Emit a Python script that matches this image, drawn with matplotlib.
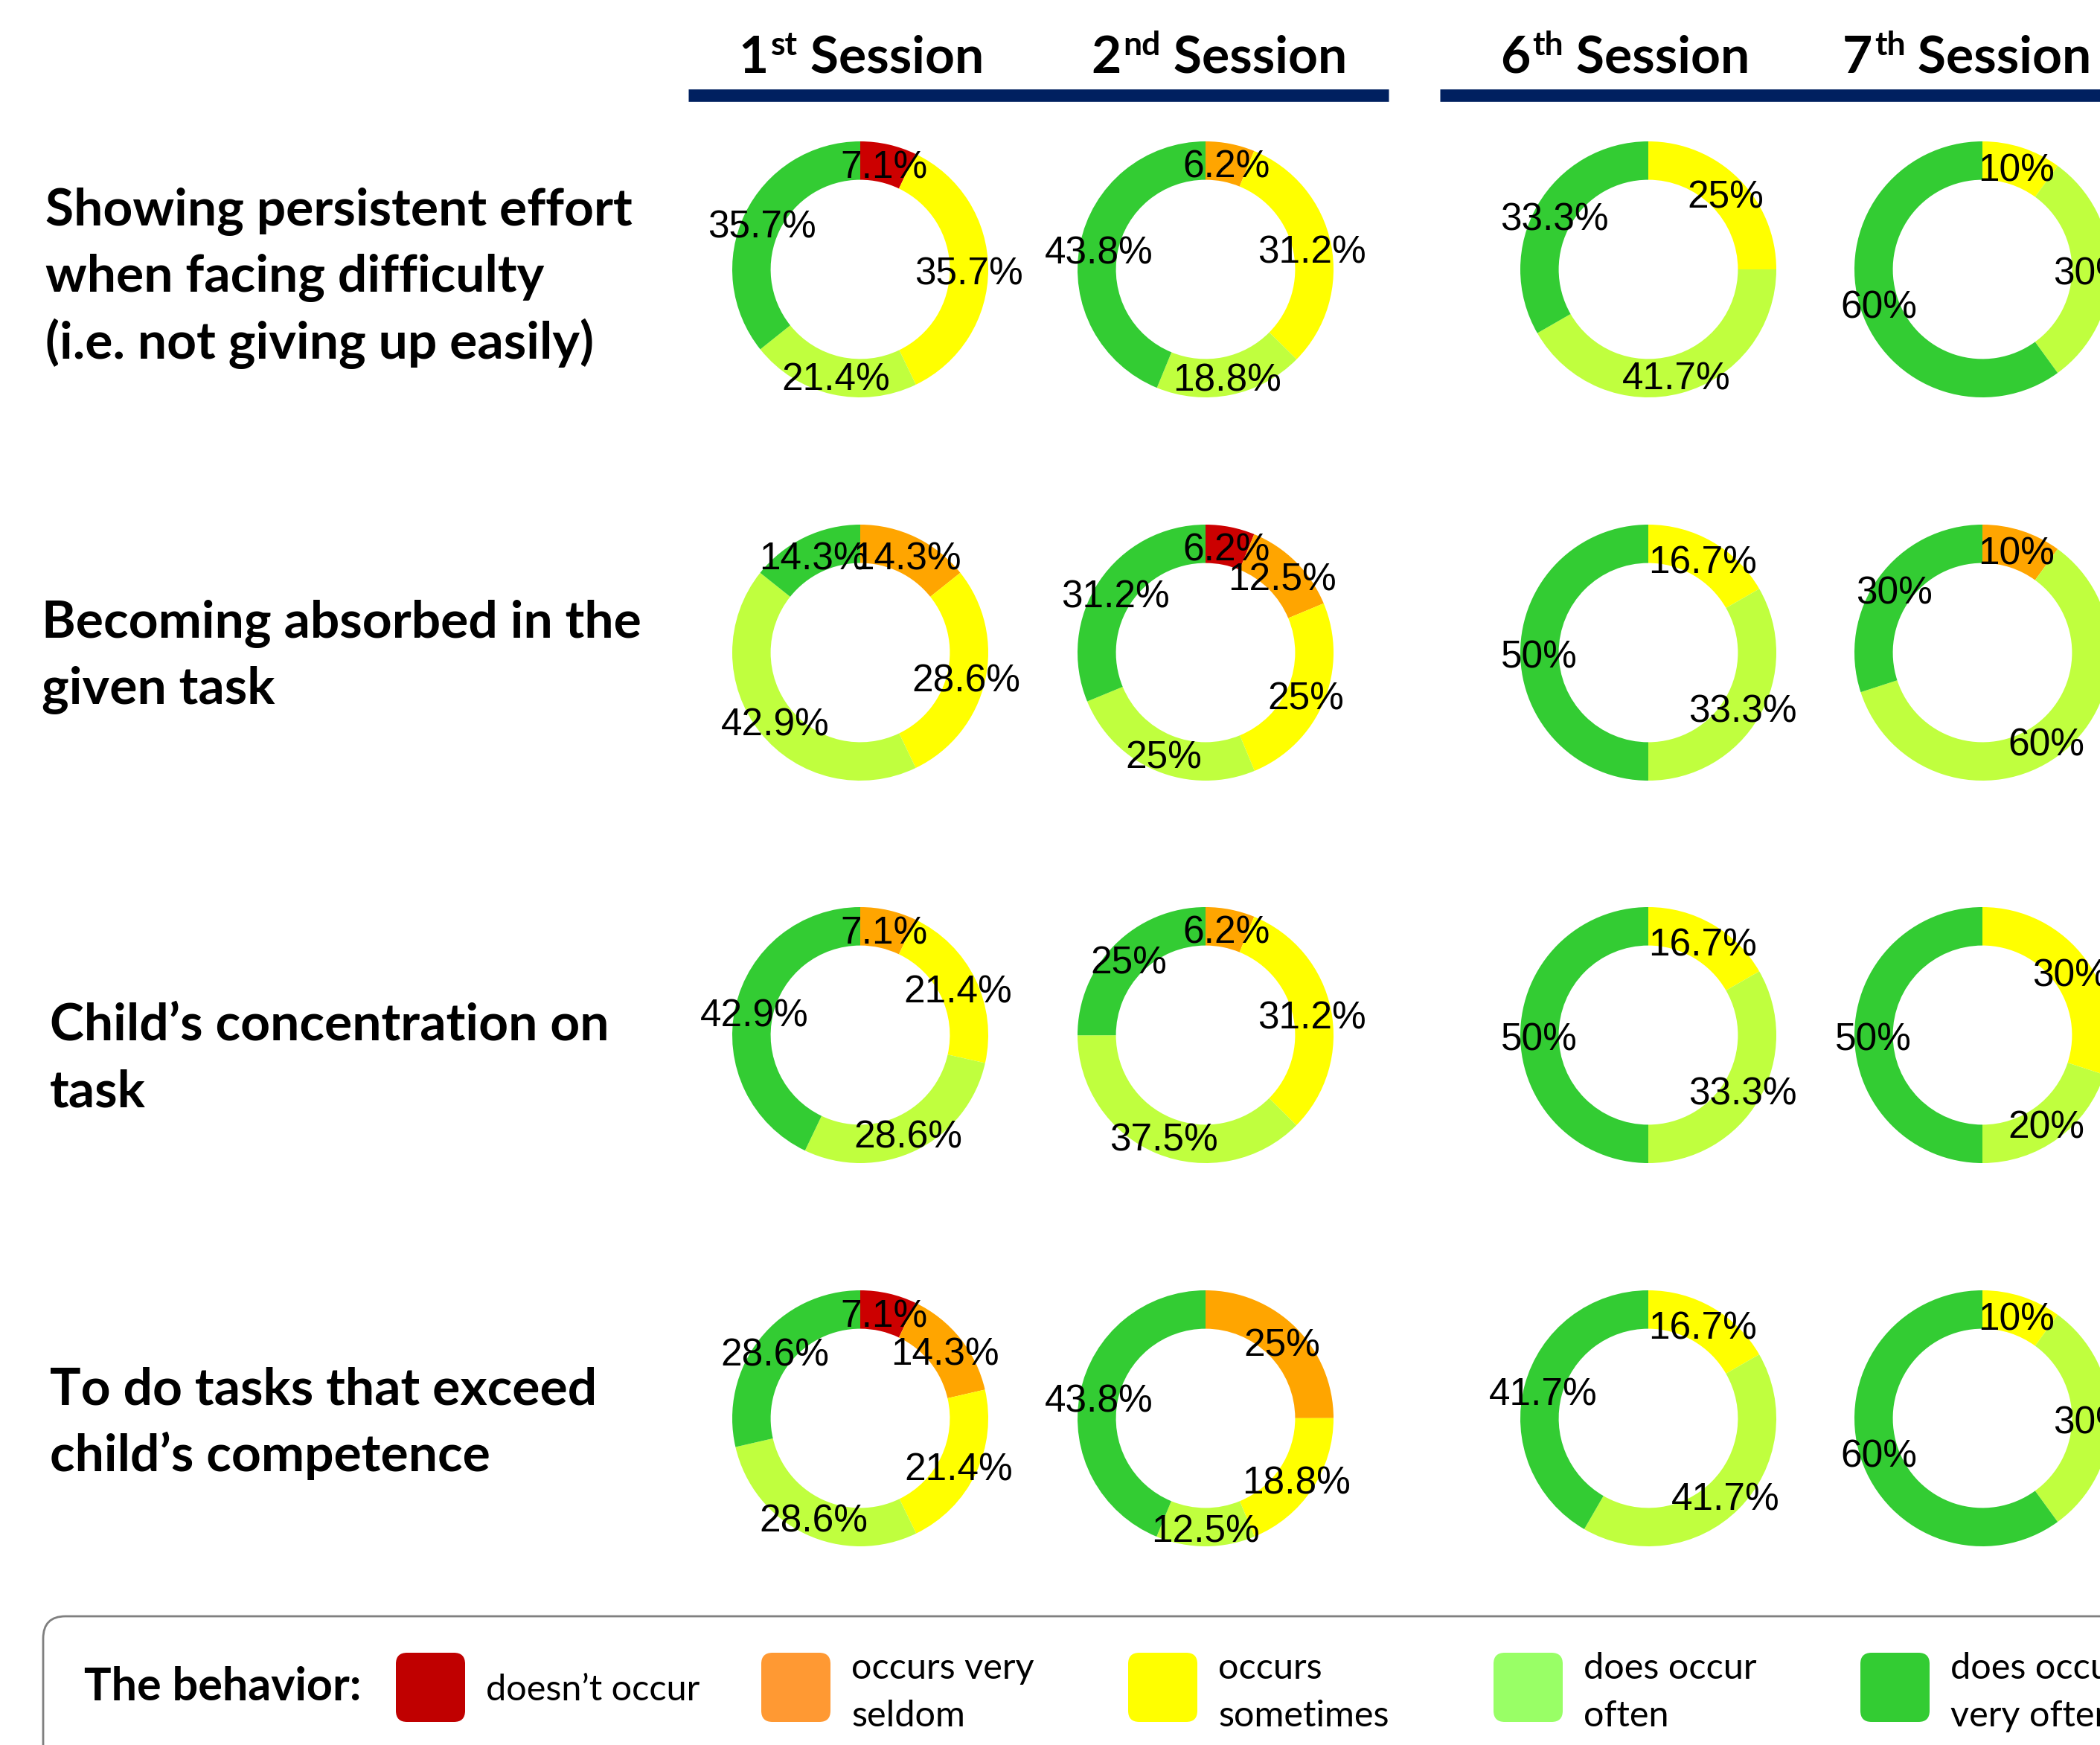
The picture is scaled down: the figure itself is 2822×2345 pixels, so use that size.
import matplotlib
matplotlib.use("Agg")
import matplotlib.pyplot as plt
from matplotlib.patches import FancyBboxPatch

# figure size in pixels (dpi 100)
W, H = 2822, 2345

# categories, in clockwise order from 12 o'clock
categories = ["doesn’t occur", "occurs very\nseldom", "occurs\nsometimes",
              "does occur\noften", "does occur\nvery often"]
ring_colors = ["#CC0000", "#FFA500", "#FFFF00", "#C0FF3E", "#33CC33"]
legend_colors = ["#C00000", "#FF9933", "#FFFF00", "#99FF66", "#33CC33"]

sessions = [("1", "st"), ("2", "nd"), ("6", "th"), ("7", "th")]

behaviors = [
    ["Showing persistent effort", "when facing difficulty", "(i.e. not giving up easily)"],
    ["Becoming absorbed in the", "given task"],
    ["Child’s concentration on", "task"],
    ["To do tasks that exceed", "child’s competence"],
]

# percentages per behaviour, per session: [red, orange, yellow, light green, green]
effort = [[7.1, 0, 35.7, 21.4, 35.7],
          [0, 6.2, 31.2, 18.8, 43.8],
          [0, 0, 25, 41.7, 33.3],
          [0, 0, 10, 30, 60]]
absorbed = [[0, 14.3, 28.6, 42.9, 14.3],
            [6.2, 12.5, 25, 25, 31.2],
            [0, 0, 16.7, 33.3, 50],
            [0, 10, 0, 60, 30]]
concentration = [[0, 7.1, 21.4, 28.6, 42.9],
                 [0, 6.2, 31.2, 37.5, 25],
                 [0, 0, 16.7, 33.3, 50],
                 [0, 0, 30, 20, 50]]
exceed = [[7.1, 14.3, 21.4, 28.6, 28.6],
          [0, 25, 18.8, 12.5, 43.8],
          [0, 0, 16.7, 41.7, 41.7],
          [0, 0, 10, 30, 60]]
all_data = [effort, absorbed, concentration, exceed]

# layout (pixels)
col_x = [1156, 1620, 2215, 2664]
row_y = [362, 877, 1391, 1906]
R = 172
title_x = [61, 56, 67, 67]
title_base = [[303, 392, 482], [857, 946], [1397, 1487], [1887, 1977]]

fig = plt.figure(figsize=(W / 100, H / 100), dpi=100)
ax = fig.add_axes([0, 0, 1, 1])
ax.set_xlim(0, W)
ax.set_ylim(H, 0)
ax.axis("off")

bold = dict(family="Lato", fontweight="bold", color="black")

# session headers with superscripts
renderer = fig.canvas.get_renderer()
for (num, sup), cx in zip(sessions, [1157, 1638, 2184, 2643]):
    t1 = ax.text(0, 98, num, fontsize=50, va="baseline", ha="left", **bold)
    t2 = ax.text(0, 74, sup, fontsize=32, va="baseline", ha="left", **bold)
    t3 = ax.text(0, 98, " Session", fontsize=50, va="baseline", ha="left", **bold)
    w1 = t1.get_window_extent(renderer).width
    w2 = t2.get_window_extent(renderer).width
    w3 = t3.get_window_extent(renderer).width
    x0 = cx - (w1 + 3 + w2 + w3) / 2
    t1.set_x(x0)
    t2.set_x(x0 + w1 + 3)
    t3.set_x(x0 + w1 + 3 + w2)

# navy rules under the headers
ax.plot([925, 1866], [128, 128], color="#002060", lw=12, solid_capstyle="butt")
ax.plot([1935, W + 10], [128, 128], color="#002060", lw=12, solid_capstyle="butt")

# row titles
for lines, x, bases in zip(behaviors, title_x, title_base):
    for line, yb in zip(lines, bases):
        ax.text(x, yb, line, fontsize=50, va="baseline", ha="left", **bold)

# donuts
for r, rows in enumerate(all_data):
    for c, vals in enumerate(rows):
        cx, cy = col_x[c], row_y[r]
        axd = fig.add_axes([(cx - R) / W, 1 - (cy + R) / H, 2 * R / W, 2 * R / H])
        v = [x for x in vals if x > 0]
        cols = [ring_colors[i] for i, x in enumerate(vals) if x > 0]
        labs = [f"{x:g}%" for x in v]
        wedges, texts = axd.pie(v, colors=cols, startangle=90, counterclock=False,
                                labels=labs, labeldistance=0.85,
                                wedgeprops=dict(width=0.3, linewidth=0),
                                textprops=dict(fontsize=37, family="Liberation Sans"))
        for t in texts:
            t.set_ha("center")
            t.set_va("center")
            t.set_y(t.get_position()[1] - 0.04)
        axd.set_xlim(-1, 1)
        axd.set_ylim(-1, 1)
        axd.axis("off")

# legend box
box = FancyBboxPatch((58, 2172), 3000, 600, boxstyle="round,pad=0,rounding_size=30",
                     fc="white", ec="#7F7F7F", lw=2)
ax.add_patch(box)
ax.text(113, 2285, "The behavior:", fontsize=44, va="baseline", ha="left", **bold)
sw_x = [532, 1023, 1516, 2007, 2500]
for x, col, lab in zip(sw_x, legend_colors, categories):
    ax.add_patch(FancyBboxPatch((x, 2221), 93, 93, boxstyle="round,pad=0,rounding_size=15",
                                fc=col, ec="none"))
    parts = lab.split("\n")
    if len(parts) == 1:
        ax.text(x + 121, 2285, parts[0], fontsize=35, family="Lato", va="baseline", ha="left")
    else:
        ax.text(x + 121, 2256, parts[0], fontsize=35, family="Lato", va="baseline", ha="left")
        ax.text(x + 121, 2320, parts[1], fontsize=35, family="Lato", va="baseline", ha="left")

plt.savefig("out.png", dpi=100)
